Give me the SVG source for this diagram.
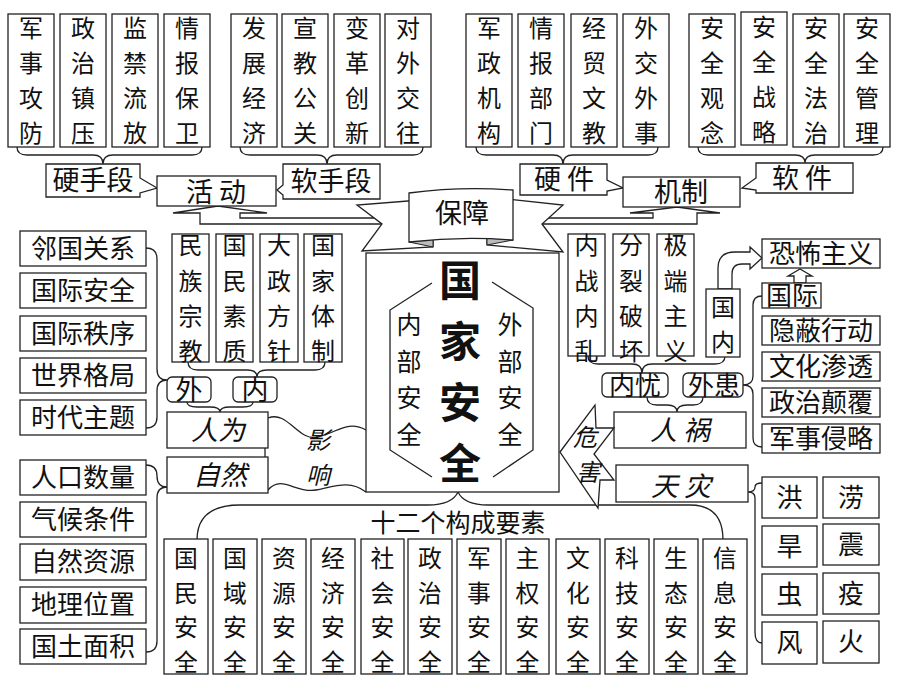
<svg xmlns="http://www.w3.org/2000/svg" width="900" height="678" viewBox="0 0 900 678">
<style>
.b{fill:#fff;stroke:#222;stroke-width:1.3}
.c{fill:none;stroke:#222;stroke-width:1.3}
.g{fill:#bbb;stroke:#222;stroke-width:1}
.t{font-family:"Noto Sans CJK SC","Liberation Sans",sans-serif;font-size:27px;fill:#111;text-anchor:middle}
.v{font-size:24px}
.w{font-size:23.8px}
.s{font-size:26px}
.i{font-style:italic}
.big{font-size:42px;font-weight:bold}
.m{font-size:25px}
</style>
<rect width="900" height="678" fill="#fff"/>

<g id="connectors">
<path class="c" d="M17,147 Q17,155 27,155 L93,155 Q103,155 103,164 Q103,155 113,155 L192,155 Q202,155 202,147"/>
<path class="c" d="M240,147 Q240,155 250,155 L317,155 Q327,155 327,164 Q327,155 337,155 L413,155 Q423,155 423,147"/>
<path class="c" d="M476,147 Q476,155 486,155 L553,155 Q563,155 563,164 Q563,155 573,155 L648,155 Q658,155 658,147"/>
<path class="c" d="M698,147 Q698,155 708,155 L795,155 Q805,155 805,163 Q805,155 815,155 L873,155 Q883,155 883,147"/>
<path class="c" d="M188,362 Q188,370 198,370 L247,370 Q257,370 257,377 Q257,370 267,370 L315,370 Q325,370 325,362"/>
<path class="c" d="M187,402 Q187,407 197,407 L210,407 Q220,407 220,412 Q220,407 230,407 L243,407 Q253,407 253,402"/>
<path class="c" d="M588,356 Q588,364 598,364 L632,364 Q642,364 642,373 Q642,364 652,364 L715,364 Q725,364 725,356"/>
<path class="c" d="M647,397 Q647,405 657,405 L667,405 Q677,405 677,412 Q677,405 687,405 L693,405 Q703,405 703,397"/>
<path class="c" d="M146,248 Q157,248 157,259 L157,369 Q157,380 167,380 Q157,380 157,391 L157,417 Q157,428 146,428"/>
<path class="c" d="M146,465 Q157,465 157,476 Q157,487 167,487 Q157,487 157,498 L157,641 Q157,652 146,652"/>
<path class="c" d="M762,296 Q753,296 753,305 L753,376 Q753,385 743,385 Q753,385 753,394 L753,438 Q753,447 762,447"/>
<path class="c" d="M762,483 Q755,483 755,487 Q755,492 748,492 Q755,492 755,498 L755,632 Q755,643 762,643"/>
<path class="c" d="M197,540 Q197,505 240,505 L428,505 Q452,505 458,492 Q464,505 488,505 L690,505 Q723,505 723,540"/>
<path class="c" d="M265,448 L265,457"/>
<path class="c" d="M268,418 C288,410 298,442 318,437 S348,420 366,430"/>
<path class="c" d="M268,490 C282,474 296,494 316,490 S350,480 366,492"/>
<path class="b" d="M218,206 L267,213 L240,213 L240,218 L386,218 L386,224 L200,224 L200,213 L173,213 Z"/>
<path class="b" d="M677,207 L720,213 L697,213 L697,224 L537,224 L537,218 L653,218 L653,213 L630,213 Z"/>
<path class="b" d="M718,289 L718,268 Q718,252 735,252 L750,252 L750,247 L762,258 L750,269 L750,264 L742,264 Q732,264 732,274 L732,289 Z"/>
<path class="b" d="M794,283 L794,276 L788,276 L800,269 L812,276 L806,276 L806,283 Z"/>
</g>

<g id="node-baozhang">
<path class="b" d="M433,199 L357,205 L382,224 L362,251 L433,247 Z"/>
<path class="b" d="M487,197 L563,205 L542,224 L563,252 L487,245 Z"/>
<path class="g" d="M409,242 L433,238 L433,247 Z"/>
<path class="g" d="M513,240 L487,238 L487,245 Z"/>
<path class="b" d="M409,193 Q461,186 513,190 L513,240 Q461,236 409,242 Z"/>
<text class="t" x="462" y="223">保障</text>
</g>

<g id="node-main">
<rect class="b" x="366" y="253" width="193" height="239"/>
<path class="c" d="M432,283 L390,310 L390,450 L432,477"/>
<path class="c" d="M492,282 L533,308 L533,450 L493,477"/>
<text class="t big" x="460"><tspan x="460" y="296">国</tspan><tspan x="460" y="357">家</tspan><tspan x="460" y="418">安</tspan><tspan x="460" y="479">全</tspan></text>
<text class="t m" x="409"><tspan x="409" y="334">内</tspan><tspan x="409" y="370.5">部</tspan><tspan x="409" y="407">安</tspan><tspan x="409" y="443.5">全</tspan></text>
<text class="t m" x="510"><tspan x="510" y="334">外</tspan><tspan x="510" y="370.5">部</tspan><tspan x="510" y="407">安</tspan><tspan x="510" y="443.5">全</tspan></text>
</g>

<g id="top-left-items">
<rect class="b" x="8" y="14" width="46" height="133"/>
<text class="t v" x="31"><tspan x="31" y="37">军</tspan><tspan x="31" y="72">事</tspan><tspan x="31" y="107">攻</tspan><tspan x="31" y="142">防</tspan></text>
<rect class="b" x="60" y="14" width="46" height="133"/>
<text class="t v" x="83"><tspan x="83" y="37">政</tspan><tspan x="83" y="72">治</tspan><tspan x="83" y="107">镇</tspan><tspan x="83" y="142">压</tspan></text>
<rect class="b" x="112" y="14" width="46" height="133"/>
<text class="t v" x="135"><tspan x="135" y="37">监</tspan><tspan x="135" y="72">禁</tspan><tspan x="135" y="107">流</tspan><tspan x="135" y="142">放</tspan></text>
<rect class="b" x="164" y="14" width="46" height="133"/>
<text class="t v" x="187"><tspan x="187" y="37">情</tspan><tspan x="187" y="72">报</tspan><tspan x="187" y="107">保</tspan><tspan x="187" y="142">卫</tspan></text>
<rect class="b" x="231" y="14" width="46" height="133"/>
<text class="t v" x="254"><tspan x="254" y="37">发</tspan><tspan x="254" y="72">展</tspan><tspan x="254" y="107">经</tspan><tspan x="254" y="142">济</tspan></text>
<rect class="b" x="282" y="14" width="46" height="133"/>
<text class="t v" x="305"><tspan x="305" y="37">宣</tspan><tspan x="305" y="72">教</tspan><tspan x="305" y="107">公</tspan><tspan x="305" y="142">关</tspan></text>
<rect class="b" x="334" y="14" width="46" height="133"/>
<text class="t v" x="357"><tspan x="357" y="37">变</tspan><tspan x="357" y="72">革</tspan><tspan x="357" y="107">创</tspan><tspan x="357" y="142">新</tspan></text>
<rect class="b" x="385" y="14" width="46" height="133"/>
<text class="t v" x="408"><tspan x="408" y="37">对</tspan><tspan x="408" y="72">外</tspan><tspan x="408" y="107">交</tspan><tspan x="408" y="142">往</tspan></text>
</g>

<g id="top-right-items">
<rect class="b" x="466" y="14" width="46" height="133"/>
<text class="t v" x="489"><tspan x="489" y="37">军</tspan><tspan x="489" y="72">政</tspan><tspan x="489" y="107">机</tspan><tspan x="489" y="142">构</tspan></text>
<rect class="b" x="518" y="14" width="46" height="133"/>
<text class="t v" x="541"><tspan x="541" y="37">情</tspan><tspan x="541" y="72">报</tspan><tspan x="541" y="107">部</tspan><tspan x="541" y="142">门</tspan></text>
<rect class="b" x="571" y="14" width="46" height="133"/>
<text class="t v" x="594"><tspan x="594" y="37">经</tspan><tspan x="594" y="72">贸</tspan><tspan x="594" y="107">文</tspan><tspan x="594" y="142">教</tspan></text>
<rect class="b" x="623" y="14" width="46" height="133"/>
<text class="t v" x="646"><tspan x="646" y="37">外</tspan><tspan x="646" y="72">交</tspan><tspan x="646" y="107">外</tspan><tspan x="646" y="142">事</tspan></text>
<rect class="b" x="689" y="14" width="46" height="133"/>
<text class="t v" x="712"><tspan x="712" y="37">安</tspan><tspan x="712" y="72">全</tspan><tspan x="712" y="107">观</tspan><tspan x="712" y="142">念</tspan></text>
<rect class="b" x="741" y="12" width="46" height="133"/>
<text class="t v" x="764"><tspan x="764" y="36">安</tspan><tspan x="764" y="71">全</tspan><tspan x="764" y="106">战</tspan><tspan x="764" y="141">略</tspan></text>
<rect class="b" x="793" y="14" width="46" height="133"/>
<text class="t v" x="816"><tspan x="816" y="37">安</tspan><tspan x="816" y="72">全</tspan><tspan x="816" y="107">法</tspan><tspan x="816" y="142">治</tspan></text>
<rect class="b" x="844" y="14" width="46" height="133"/>
<text class="t v" x="867"><tspan x="867" y="37">安</tspan><tspan x="867" y="72">全</tspan><tspan x="867" y="107">管</tspan><tspan x="867" y="142">理</tspan></text>
</g>

<g id="node-yingshouduan"><path class="b" d="M46,164 H140 V178 L157,188 L140,193 V197 H46 Z"/><text class="t" x="93" y="190">硬手段</text></g>
<g id="node-huodong"><rect class="b" x="157" y="176" width="119" height="30"/><text class="t" x="216" y="202">活 动</text></g>
<g id="node-ruanshouduan"><path class="b" d="M283,164 H380 V199 H283 V195 L277,190 L283,185 Z"/><text class="t" x="331" y="191">软手段</text></g>
<g id="node-yingjian"><path class="b" d="M520,164 H607 V180 L623,188 L607,191 V195 H520 Z"/><text class="t" x="564" y="189">硬 件</text></g>
<g id="node-jizhi"><rect class="b" x="623" y="177" width="117" height="30"/><text class="t" x="681" y="202">机制</text></g>
<g id="node-ruanjian"><path class="b" d="M756,163 H853 V193 H756 V190 L742,188 L756,178 Z"/><text class="t" x="802" y="188">软 件</text></g>

<g id="outer-factors">
<rect class="b" x="20" y="231" width="126" height="35"/><text class="t s" x="83" y="258">邻国关系</text>
<rect class="b" x="20" y="273" width="126" height="35"/><text class="t s" x="83" y="300">国际安全</text>
<rect class="b" x="20" y="316" width="126" height="35"/><text class="t s" x="83" y="343">国际秩序</text>
<rect class="b" x="20" y="358" width="126" height="35"/><text class="t s" x="83" y="385">世界格局</text>
<rect class="b" x="20" y="400" width="126" height="35"/><text class="t s" x="83" y="427">时代主题</text>
</g>

<g id="natural-factors">
<rect class="b" x="20" y="460" width="126" height="35"/><text class="t s" x="83" y="487">人口数量</text>
<rect class="b" x="20" y="502" width="126" height="35"/><text class="t s" x="83" y="529">气候条件</text>
<rect class="b" x="20" y="544" width="126" height="36"/><text class="t s" x="83" y="571">自然资源</text>
<rect class="b" x="20" y="587" width="126" height="36"/><text class="t s" x="83" y="614">地理位置</text>
<rect class="b" x="20" y="629" width="126" height="35"/><text class="t s" x="83" y="656">国土面积</text>
</g>

<g id="inner-factors">
<rect class="b" x="172" y="234" width="37" height="128"/>
<text class="t v" x="190.5"><tspan x="190.5" y="254">民</tspan><tspan x="190.5" y="290">族</tspan><tspan x="190.5" y="325">宗</tspan><tspan x="190.5" y="360">教</tspan></text>
<rect class="b" x="216" y="234" width="37" height="128"/>
<text class="t v" x="234.5"><tspan x="234.5" y="254">国</tspan><tspan x="234.5" y="290">民</tspan><tspan x="234.5" y="325">素</tspan><tspan x="234.5" y="360">质</tspan></text>
<rect class="b" x="260" y="234" width="38" height="128"/>
<text class="t v" x="279"><tspan x="279" y="254">大</tspan><tspan x="279" y="290">政</tspan><tspan x="279" y="325">方</tspan><tspan x="279" y="360">针</tspan></text>
<rect class="b" x="304" y="234" width="38" height="128"/>
<text class="t v" x="323"><tspan x="323" y="254">国</tspan><tspan x="323" y="290">家</tspan><tspan x="323" y="325">体</tspan><tspan x="323" y="360">制</tspan></text>
</g>

<g id="node-wai"><rect class="b" x="167" y="377" width="44" height="25" rx="5"/><text class="t" x="189" y="400">外</text></g>
<g id="node-nei"><rect class="b" x="233" y="377" width="44" height="25" rx="5"/><text class="t" x="255" y="400">内</text></g>
<g id="node-renwei"><rect class="b" x="167" y="412" width="101" height="36"/><text class="t i" x="218" y="440">人为</text></g>
<g id="node-ziran"><rect class="b" x="167" y="457" width="101" height="36"/><text class="t i" x="220" y="485">自然</text></g>
<g id="label-yingxiang"><text class="t v i" x="318" y="449">影</text><text class="t v i" x="318" y="484">响</text></g>

<g id="node-twelve">
<text class="t m" x="458" y="532">十二个构成要素</text>
<rect class="b" x="164" y="539" width="44" height="135"/>
<text class="t w" x="186"><tspan x="186" y="567">国</tspan><tspan x="186" y="601.7">民</tspan><tspan x="186" y="636.3">安</tspan><tspan x="186" y="671">全</tspan></text>
<rect class="b" x="213" y="539" width="44" height="135"/>
<text class="t w" x="235"><tspan x="235" y="567">国</tspan><tspan x="235" y="601.7">域</tspan><tspan x="235" y="636.3">安</tspan><tspan x="235" y="671">全</tspan></text>
<rect class="b" x="262" y="539" width="44" height="135"/>
<text class="t w" x="284"><tspan x="284" y="567">资</tspan><tspan x="284" y="601.7">源</tspan><tspan x="284" y="636.3">安</tspan><tspan x="284" y="671">全</tspan></text>
<rect class="b" x="311" y="539" width="44" height="135"/>
<text class="t w" x="333"><tspan x="333" y="567">经</tspan><tspan x="333" y="601.7">济</tspan><tspan x="333" y="636.3">安</tspan><tspan x="333" y="671">全</tspan></text>
<rect class="b" x="361" y="539" width="43" height="135"/>
<text class="t w" x="382.5"><tspan x="382.5" y="567">社</tspan><tspan x="382.5" y="601.7">会</tspan><tspan x="382.5" y="636.3">安</tspan><tspan x="382.5" y="671">全</tspan></text>
<rect class="b" x="408" y="539" width="44" height="135"/>
<text class="t w" x="430"><tspan x="430" y="567">政</tspan><tspan x="430" y="601.7">治</tspan><tspan x="430" y="636.3">安</tspan><tspan x="430" y="671">全</tspan></text>
<rect class="b" x="457" y="539" width="44" height="135"/>
<text class="t w" x="479"><tspan x="479" y="567">军</tspan><tspan x="479" y="601.7">事</tspan><tspan x="479" y="636.3">安</tspan><tspan x="479" y="671">全</tspan></text>
<rect class="b" x="506" y="539" width="43" height="135"/>
<text class="t w" x="527.5"><tspan x="527.5" y="567">主</tspan><tspan x="527.5" y="601.7">权</tspan><tspan x="527.5" y="636.3">安</tspan><tspan x="527.5" y="671">全</tspan></text>
<rect class="b" x="556" y="539" width="44" height="135"/>
<text class="t w" x="578"><tspan x="578" y="567">文</tspan><tspan x="578" y="601.7">化</tspan><tspan x="578" y="636.3">安</tspan><tspan x="578" y="671">全</tspan></text>
<rect class="b" x="605" y="539" width="44" height="135"/>
<text class="t w" x="627"><tspan x="627" y="567">科</tspan><tspan x="627" y="601.7">技</tspan><tspan x="627" y="636.3">安</tspan><tspan x="627" y="671">全</tspan></text>
<rect class="b" x="654" y="539" width="44" height="135"/>
<text class="t w" x="676"><tspan x="676" y="567">生</tspan><tspan x="676" y="601.7">态</tspan><tspan x="676" y="636.3">安</tspan><tspan x="676" y="671">全</tspan></text>
<rect class="b" x="703" y="539" width="44" height="135"/>
<text class="t w" x="725"><tspan x="725" y="567">信</tspan><tspan x="725" y="601.7">息</tspan><tspan x="725" y="636.3">安</tspan><tspan x="725" y="671">全</tspan></text>
</g>

<g id="internal-threats">
<rect class="b" x="568" y="234" width="37" height="122"/>
<text class="t v" x="586.5"><tspan x="586.5" y="254">内</tspan><tspan x="586.5" y="290">战</tspan><tspan x="586.5" y="325">内</tspan><tspan x="586.5" y="360">乱</tspan></text>
<rect class="b" x="613" y="234" width="36" height="122"/>
<text class="t v" x="631"><tspan x="631" y="254">分</tspan><tspan x="631" y="290">裂</tspan><tspan x="631" y="325">破</tspan><tspan x="631" y="360">坏</tspan></text>
<rect class="b" x="657" y="234" width="37" height="122"/>
<text class="t v" x="675.5"><tspan x="675.5" y="254">极</tspan><tspan x="675.5" y="290">端</tspan><tspan x="675.5" y="325">主</tspan><tspan x="675.5" y="360">义</tspan></text>
</g>
<g id="node-guonei"><rect class="b" x="706" y="289" width="34" height="68"/><text class="t v" x="723"><tspan x="723" y="316">国</tspan><tspan x="723" y="351">内</tspan></text></g>

<g id="node-neiyou"><rect class="b" x="602" y="373" width="66" height="24" rx="5"/><text class="t s" x="635" y="395">内忧</text></g>
<g id="node-waihuan"><rect class="b" x="683" y="373" width="60" height="24" rx="5"/><text class="t s" x="714" y="395">外患</text></g>
<g id="node-renhuo"><rect class="b" x="614" y="412" width="132" height="36"/><text class="t i" x="680" y="440">人 祸</text></g>
<g id="node-tianzai"><rect class="b" x="616" y="465" width="132" height="37"/><text class="t i" x="681" y="496">天 灾</text></g>
<g id="node-weihai">
<path class="b" d="M560,452 L595,405 L596,428 L614,428 L594,454 L614,480 L600,480 L598,508 Z"/>
<text class="t v i" x="585" y="446">危</text><text class="t v i" x="588" y="481">害</text>
</g>

<g id="external-threats">
<rect class="b" x="762" y="239" width="118" height="29"/><text class="t s" x="821" y="263">恐怖主义</text>
<rect class="b" x="762" y="283" width="59" height="25"/><text class="t s" x="792" y="305">国际</text>
<rect class="b" x="762" y="316" width="118" height="29"/><text class="t s" x="821" y="340">隐蔽行动</text>
<rect class="b" x="762" y="352" width="118" height="29"/><text class="t s" x="821" y="376">文化渗透</text>
<rect class="b" x="762" y="388" width="118" height="29"/><text class="t s" x="821" y="412">政治颠覆</text>
<rect class="b" x="762" y="424" width="118" height="29"/><text class="t s" x="821" y="448">军事侵略</text>
</g>

<g id="disasters">
<rect class="b" x="762" y="477" width="55" height="41"/><text class="t s" x="789.5" y="507">洪</text>
<rect class="b" x="823" y="477" width="56" height="41"/><text class="t s" x="851" y="507">涝</text>
<rect class="b" x="762" y="526" width="55" height="41"/><text class="t s" x="789.5" y="556">旱</text>
<rect class="b" x="823" y="524" width="56" height="41"/><text class="t s" x="851" y="554">震</text>
<rect class="b" x="762" y="574" width="55" height="41"/><text class="t s" x="789.5" y="604">虫</text>
<rect class="b" x="823" y="573" width="56" height="41"/><text class="t s" x="851" y="603">疫</text>
<rect class="b" x="762" y="622" width="55" height="42"/><text class="t s" x="789.5" y="652">风</text>
<rect class="b" x="823" y="621" width="56" height="42"/><text class="t s" x="851" y="651">火</text>
</g>
</svg>
